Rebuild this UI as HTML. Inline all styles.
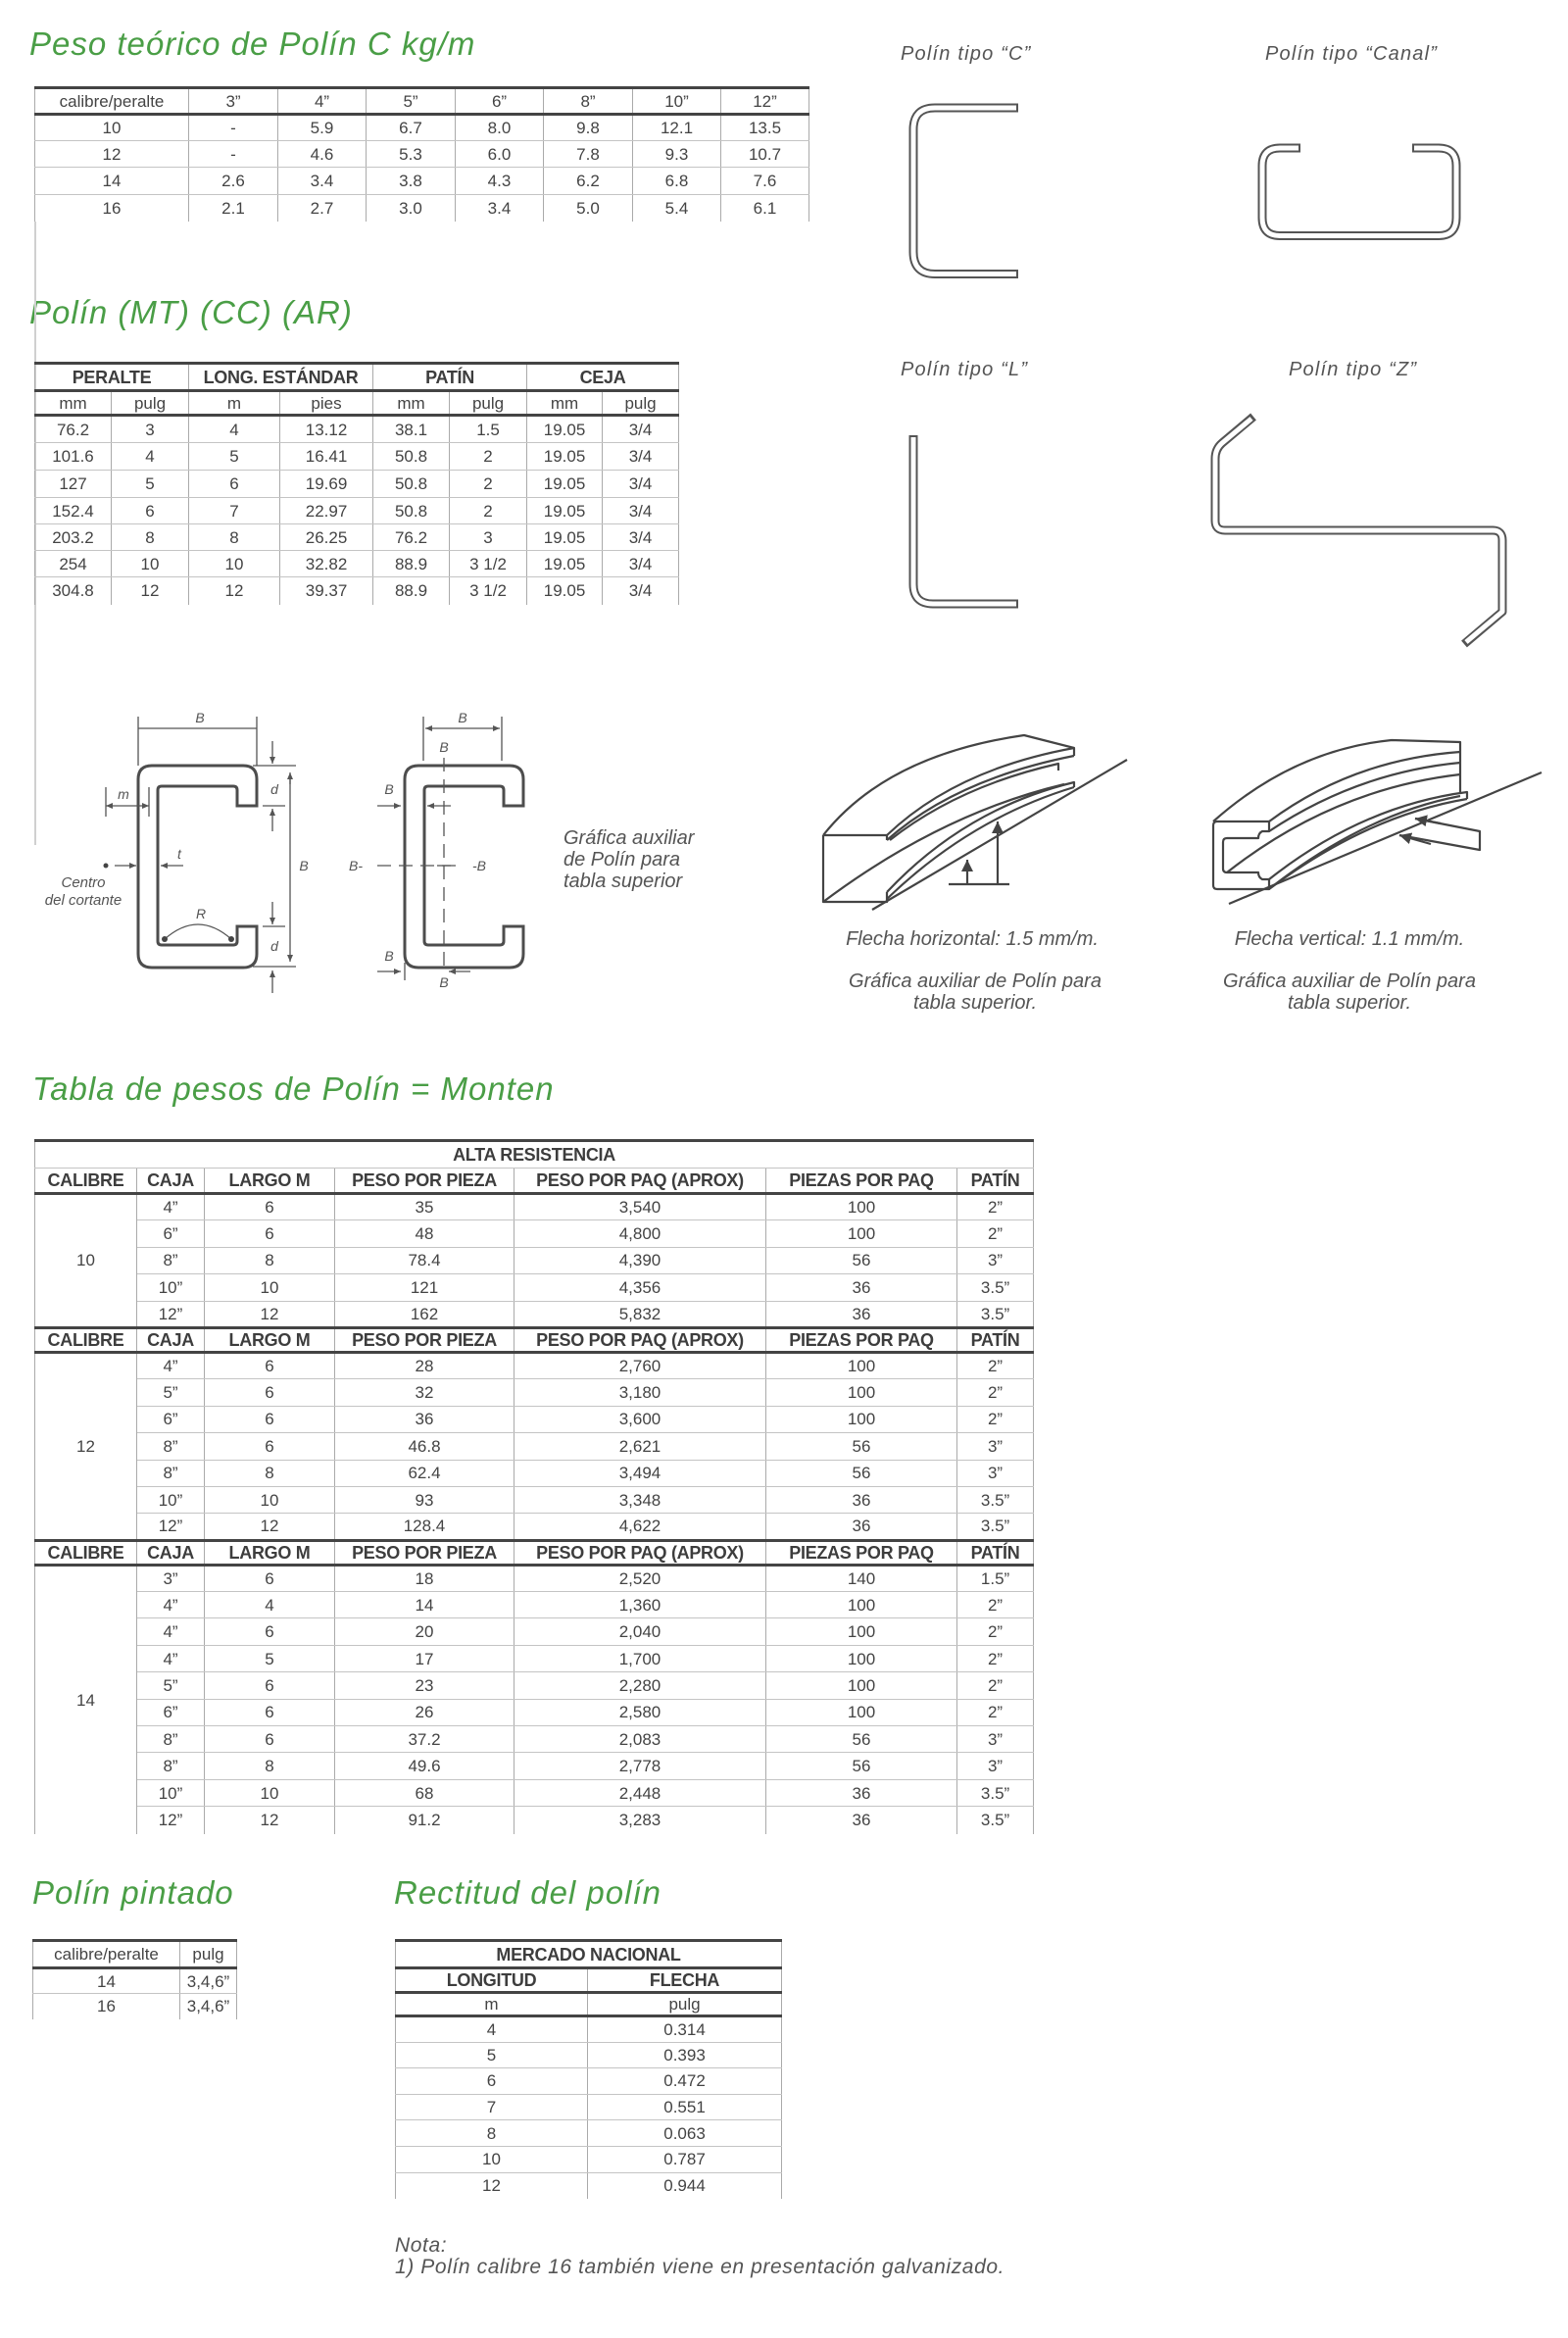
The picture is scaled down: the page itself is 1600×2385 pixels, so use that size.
<!DOCTYPE html>
<html><head><meta charset="utf-8">
<style>
html,body{margin:0;padding:0;background:#fff;}
body{width:1600px;height:2385px;position:relative;overflow:hidden;font-family:"Liberation Sans",sans-serif;}
.title{position:absolute;font-family:"Liberation Sans",sans-serif;font-style:italic;color:#4a9e46;font-size:33px;letter-spacing:1px;white-space:nowrap;line-height:1;}
.lbl{position:absolute;font-style:italic;color:#555;white-space:nowrap;line-height:1;}
table{position:absolute;border-collapse:collapse;table-layout:fixed;color:#444;font-size:17px;border-top:3px solid #444;}
td{padding:0;text-align:center;border-left:1px solid #aaa;border-right:1px solid #aaa;border-bottom:1px solid #c4c4c4;white-space:nowrap;overflow:hidden;line-height:1;}
tr.h td{border-bottom:3px solid #444;}
tr.hh td{border-top:3px solid #444;border-bottom:3px solid #444;}
tr.last td{border-bottom:none;}
.b td,td.b{font-weight:bold;font-size:18px;letter-spacing:-0.3px;color:#3d3d3d;}
</style></head>
<body>

<div class="title" style="left:30px;top:28px;">Peso teórico de Polín C kg/m</div>
<div class="title" style="left:30px;top:302px;">Polín (MT) (CC) (AR)</div>
<div class="title" style="left:33px;top:1094px;">Tabla de pesos de Polín = Monten</div>
<div class="title" style="left:33px;top:1914px;">Polín pintado</div>
<div class="title" style="left:402px;top:1914px;">Rectitud del polín</div>

<div style="position:absolute;left:35px;top:226px;width:2px;height:636px;background:#d0d0d0;"></div>

<!-- Table 1 -->
<table style="left:35px;top:88px;width:790px;">
<colgroup><col style="width:157px"><col style="width:91px"><col style="width:90px"><col style="width:91px"><col style="width:90px"><col style="width:91px"><col style="width:90px"><col style="width:90px"></colgroup>
<tr class="h" style="height:27px"><td>calibre/peralte</td><td>3”</td><td>4”</td><td>5”</td><td>6”</td><td>8”</td><td>10”</td><td>12”</td></tr>
<tr style="height:27px"><td>10</td><td>-</td><td>5.9</td><td>6.7</td><td>8.0</td><td>9.8</td><td>12.1</td><td>13.5</td></tr>
<tr style="height:27px"><td>12</td><td>-</td><td>4.6</td><td>5.3</td><td>6.0</td><td>7.8</td><td>9.3</td><td>10.7</td></tr>
<tr style="height:28px"><td>14</td><td>2.6</td><td>3.4</td><td>3.8</td><td>4.3</td><td>6.2</td><td>6.8</td><td>7.6</td></tr>
<tr class="last" style="height:27px"><td>16</td><td>2.1</td><td>2.7</td><td>3.0</td><td>3.4</td><td>5.0</td><td>5.4</td><td>6.1</td></tr>
</table>

<!-- Table 2 -->
<table style="left:35px;top:369px;width:657px;">
<colgroup><col style="width:78px"><col style="width:79px"><col style="width:93px"><col style="width:95px"><col style="width:78px"><col style="width:79px"><col style="width:77px"><col style="width:78px"></colgroup>
<tr class="h b" style="height:28px"><td colspan="2">PERALTE</td><td colspan="2">LONG. ESTÁNDAR</td><td colspan="2">PATÍN</td><td colspan="2">CEJA</td></tr>
<tr class="h" style="height:25px"><td>mm</td><td>pulg</td><td>m</td><td>pies</td><td>mm</td><td>pulg</td><td>mm</td><td>pulg</td></tr>
<tr style="height:28px"><td>76.2</td><td>3</td><td>4</td><td>13.12</td><td>38.1</td><td>1.5</td><td>19.05</td><td>3/4</td></tr>
<tr style="height:28px"><td>101.6</td><td>4</td><td>5</td><td>16.41</td><td>50.8</td><td>2</td><td>19.05</td><td>3/4</td></tr>
<tr style="height:28px"><td>127</td><td>5</td><td>6</td><td>19.69</td><td>50.8</td><td>2</td><td>19.05</td><td>3/4</td></tr>
<tr style="height:27px"><td>152.4</td><td>6</td><td>7</td><td>22.97</td><td>50.8</td><td>2</td><td>19.05</td><td>3/4</td></tr>
<tr style="height:27px"><td>203.2</td><td>8</td><td>8</td><td>26.25</td><td>76.2</td><td>3</td><td>19.05</td><td>3/4</td></tr>
<tr style="height:27px"><td>254</td><td>10</td><td>10</td><td>32.82</td><td>88.9</td><td>3 1/2</td><td>19.05</td><td>3/4</td></tr>
<tr class="last" style="height:28px"><td>304.8</td><td>12</td><td>12</td><td>39.37</td><td>88.9</td><td>3 1/2</td><td>19.05</td><td>3/4</td></tr>
</table>

<!-- Big table -->
<table style="left:35px;top:1162px;width:1019px;">
<colgroup><col style="width:104px"><col style="width:69px"><col style="width:133px"><col style="width:183px"><col style="width:257px"><col style="width:195px"><col style="width:78px"></colgroup>
<tr class="b" style="height:28px"><td colspan="7">ALTA RESISTENCIA</td></tr>
<tr class="h b" style="height:26px"><td>CALIBRE</td><td>CAJA</td><td>LARGO M</td><td>PESO POR PIEZA</td><td>PESO POR PAQ (APROX)</td><td>PIEZAS POR PAQ</td><td>PATÍN</td></tr>
<tr style="height:27.4px"><td rowspan="5" style="border-bottom:none">10</td><td>4”</td><td>6</td><td>35</td><td>3,540</td><td>100</td><td>2”</td></tr>
<tr style="height:27.4px"><td>6”</td><td>6</td><td>48</td><td>4,800</td><td>100</td><td>2”</td></tr>
<tr style="height:27.4px"><td>8”</td><td>8</td><td>78.4</td><td>4,390</td><td>56</td><td>3”</td></tr>
<tr style="height:27.4px"><td>10”</td><td>10</td><td>121</td><td>4,356</td><td>36</td><td>3.5”</td></tr>
<tr style="height:27.4px"><td>12”</td><td>12</td><td>162</td><td>5,832</td><td>36</td><td>3.5”</td></tr>
<tr class="hh b" style="height:25px"><td>CALIBRE</td><td>CAJA</td><td>LARGO M</td><td>PESO POR PIEZA</td><td>PESO POR PAQ (APROX)</td><td>PIEZAS POR PAQ</td><td>PATÍN</td></tr>
<tr style="height:27.4px"><td rowspan="7" style="border-bottom:none">12</td><td>4”</td><td>6</td><td>28</td><td>2,760</td><td>100</td><td>2”</td></tr>
<tr style="height:27.4px"><td>5”</td><td>6</td><td>32</td><td>3,180</td><td>100</td><td>2”</td></tr>
<tr style="height:27.4px"><td>6”</td><td>6</td><td>36</td><td>3,600</td><td>100</td><td>2”</td></tr>
<tr style="height:27.4px"><td>8”</td><td>6</td><td>46.8</td><td>2,621</td><td>56</td><td>3”</td></tr>
<tr style="height:27.4px"><td>8”</td><td>8</td><td>62.4</td><td>3,494</td><td>56</td><td>3”</td></tr>
<tr style="height:27.4px"><td>10”</td><td>10</td><td>93</td><td>3,348</td><td>36</td><td>3.5”</td></tr>
<tr style="height:27.4px"><td>12”</td><td>12</td><td>128.4</td><td>4,622</td><td>36</td><td>3.5”</td></tr>
<tr class="hh b" style="height:25px"><td>CALIBRE</td><td>CAJA</td><td>LARGO M</td><td>PESO POR PIEZA</td><td>PESO POR PAQ (APROX)</td><td>PIEZAS POR PAQ</td><td>PATÍN</td></tr>
<tr style="height:27.4px"><td rowspan="10" style="border-bottom:none">14</td><td>3”</td><td>6</td><td>18</td><td>2,520</td><td>140</td><td>1.5”</td></tr>
<tr style="height:27.4px"><td>4”</td><td>4</td><td>14</td><td>1,360</td><td>100</td><td>2”</td></tr>
<tr style="height:27.4px"><td>4”</td><td>6</td><td>20</td><td>2,040</td><td>100</td><td>2”</td></tr>
<tr style="height:27.4px"><td>4”</td><td>5</td><td>17</td><td>1,700</td><td>100</td><td>2”</td></tr>
<tr style="height:27.4px"><td>5”</td><td>6</td><td>23</td><td>2,280</td><td>100</td><td>2”</td></tr>
<tr style="height:27.4px"><td>6”</td><td>6</td><td>26</td><td>2,580</td><td>100</td><td>2”</td></tr>
<tr style="height:27.4px"><td>8”</td><td>6</td><td>37.2</td><td>2,083</td><td>56</td><td>3”</td></tr>
<tr style="height:27.4px"><td>8”</td><td>8</td><td>49.6</td><td>2,778</td><td>56</td><td>3”</td></tr>
<tr style="height:27.4px"><td>10”</td><td>10</td><td>68</td><td>2,448</td><td>36</td><td>3.5”</td></tr>
<tr class="last" style="height:28px"><td>12”</td><td>12</td><td>91.2</td><td>3,283</td><td>36</td><td>3.5”</td></tr>
</table>

<!-- Polín pintado table -->
<table style="left:33px;top:1978px;width:208px;">
<colgroup><col style="width:150px"><col style="width:58px"></colgroup>
<tr class="h" style="height:28px"><td>calibre/peralte</td><td>pulg</td></tr>
<tr style="height:26px"><td>14</td><td>3,4,6”</td></tr>
<tr class="last" style="height:26px"><td>16</td><td>3,4,6”</td></tr>
</table>

<!-- Rectitud table -->
<table style="left:403px;top:1978px;width:394px;">
<colgroup><col style="width:196px"><col style="width:198px"></colgroup>
<tr class="h b" style="height:28px"><td colspan="2">MERCADO NACIONAL</td></tr>
<tr class="h b" style="height:25px"><td>LONGITUD</td><td>FLECHA</td></tr>
<tr class="h" style="height:24px"><td>m</td><td>pulg</td></tr>
<tr style="height:26.6px"><td>4</td><td>0.314</td></tr>
<tr style="height:26.6px"><td>5</td><td>0.393</td></tr>
<tr style="height:26.6px"><td>6</td><td>0.472</td></tr>
<tr style="height:26.6px"><td>7</td><td>0.551</td></tr>
<tr style="height:26.6px"><td>8</td><td>0.063</td></tr>
<tr style="height:26.6px"><td>10</td><td>0.787</td></tr>
<tr class="last" style="height:27px"><td>12</td><td>0.944</td></tr>
</table>

<div class="lbl" style="left:403px;top:2280px;font-size:21px;letter-spacing:0.6px;">Nota:</div>
<div class="lbl" style="left:403px;top:2302px;font-size:21px;letter-spacing:0.6px;">1) Polín calibre 16 también viene en presentación galvanizado.</div>

<div class="lbl" style="left:919px;top:45px;font-size:20px;letter-spacing:1.2px;">Polín tipo “C”</div>
<div class="lbl" style="left:1291px;top:45px;font-size:20px;letter-spacing:1.2px;">Polín tipo “Canal”</div>
<div class="lbl" style="left:919px;top:367px;font-size:20px;letter-spacing:1.2px;">Polín tipo “L”</div>
<div class="lbl" style="left:1315px;top:367px;font-size:20px;letter-spacing:1.2px;">Polín tipo “Z”</div>

<div class="lbl" style="left:575px;top:844px;font-size:20px;line-height:22px;">Gráfica auxiliar<br>de Polín para<br>tabla superior</div>
<div class="lbl" style="left:20px;top:892px;width:130px;text-align:center;font-size:15px;line-height:18px;">Centro<br>del cortante</div>

<div class="lbl" style="left:800px;top:948px;width:384px;text-align:center;font-size:20px;">Flecha horizontal: 1.5 mm/m.</div>
<div class="lbl" style="left:800px;top:990px;width:390px;text-align:center;font-size:20px;line-height:22px;">Gráfica auxiliar de Polín para<br>tabla superior.</div>
<div class="lbl" style="left:1185px;top:948px;width:384px;text-align:center;font-size:20px;">Flecha vertical: 1.1 mm/m.</div>
<div class="lbl" style="left:1182px;top:990px;width:390px;text-align:center;font-size:20px;line-height:22px;">Gráfica auxiliar de Polín para<br>tabla superior.</div>

<svg width="1600" height="2385" style="position:absolute;left:0;top:0;" xmlns="http://www.w3.org/2000/svg">
<defs>
<marker id="ar" markerWidth="8" markerHeight="8" refX="7" refY="4" orient="auto" markerUnits="userSpaceOnUse"><path d="M0,1 L7,4 L0,7 Z" fill="#555"/></marker>
<marker id="ar2" markerWidth="14" markerHeight="14" refX="12" refY="6" orient="auto" markerUnits="userSpaceOnUse"><path d="M0,0 L12,6 L0,12 Z" fill="#444"/></marker>
</defs>

<g fill="none" stroke-linejoin="round">
<g stroke="#555" stroke-width="9">
<path d="M1039,110 H954 Q932,110 932,132 V257 Q932,279.5 954,279.5 H1039"/>
<path d="M1327,151 H1306 Q1288,151 1288,169 V222 Q1288,240.5 1306,240.5 H1468 Q1486,240.5 1486,222 V169 Q1486,151 1468,151 H1441"/>
<path d="M932,444 V596 Q932,616 952,616 H1039"/>
<path d="M1279,425 L1247,452 Q1240,458 1240,468 V531 Q1240,541 1250,541 H1523 Q1533,541 1533,551 V624 L1494,657"/>
</g>
<g stroke="#fff" stroke-width="5">
<path d="M1037,110 H954 Q932,110 932,132 V257 Q932,279.5 954,279.5 H1037"/>
<path d="M1325,151 H1306 Q1288,151 1288,169 V222 Q1288,240.5 1306,240.5 H1468 Q1486,240.5 1486,222 V169 Q1486,151 1468,151 H1443"/>
<path d="M932,446 V596 Q932,616 952,616 H1037"/>
<path d="M1277,427 L1247,452 Q1240,458 1240,468 V531 Q1240,541 1250,541 H1523 Q1533,541 1533,551 V624 L1496,655"/>
</g>
</g>

<g fill="none" stroke="#4d4d4d" stroke-width="3">
<path d="M262,822 V795 Q262,781 248,781 H155 Q141,781 141,795 V973 Q141,987 155,987 H248 Q262,987 262,973 V945 H242 V960 Q242,964 238,964 H165 Q161,964 161,960 V806 Q161,802 165,802 H238 Q242,802 242,806 V822 Z"/>
<path transform="translate(272,0)" d="M262,822 V795 Q262,781 248,781 H155 Q141,781 141,795 V973 Q141,987 155,987 H248 Q262,987 262,973 V945 H242 V960 Q242,964 238,964 H165 Q161,964 161,960 V806 Q161,802 165,802 H238 Q242,802 242,806 V822 Z"/>
</g>
<g fill="none" stroke="#555" stroke-width="1.3">
<line x1="141" y1="731" x2="141" y2="781"/><line x1="262" y1="731" x2="262" y2="781"/>
<line x1="141" y1="743" x2="262" y2="743"/>
<line x1="278" y1="756" x2="278" y2="779" marker-end="url(#ar)"/>
<line x1="258" y1="781" x2="302" y2="781"/>
<line x1="268" y1="822" x2="291" y2="822"/>
<line x1="278" y1="848" x2="278" y2="825" marker-end="url(#ar)"/>
<line x1="296" y1="800" x2="296" y2="788" marker-end="url(#ar)"/>
<line x1="296" y1="790" x2="296" y2="981" marker-end="url(#ar)"/>
<line x1="278" y1="920" x2="278" y2="943" marker-end="url(#ar)"/>
<line x1="268" y1="945" x2="291" y2="945"/>
<line x1="258" y1="986" x2="302" y2="986"/>
<line x1="278" y1="1013" x2="278" y2="990" marker-end="url(#ar)"/>
<line x1="108" y1="803" x2="108" y2="833"/><line x1="152" y1="803" x2="152" y2="833"/>
<line x1="125" y1="822" x2="108" y2="822" marker-end="url(#ar)"/>
<line x1="125" y1="822" x2="152" y2="822" marker-end="url(#ar)"/>
<line x1="117" y1="883" x2="139" y2="883" marker-end="url(#ar)"/>
<line x1="187" y1="883" x2="164" y2="883" marker-end="url(#ar)"/>
<path d="M168,958 Q202,928 236,958"/>
<line x1="432" y1="731" x2="432" y2="776"/><line x1="512" y1="731" x2="512" y2="776"/>
<line x1="470" y1="743" x2="434" y2="743" marker-end="url(#ar)"/>
<line x1="470" y1="743" x2="510" y2="743" marker-end="url(#ar)"/>
<line x1="453" y1="773" x2="453" y2="990" stroke-dasharray="14,8"/>
<line x1="385" y1="883" x2="470" y2="883" stroke-dasharray="14,8"/>
<line x1="446" y1="883" x2="460" y2="883"/>
<line x1="385" y1="822" x2="409" y2="822" marker-end="url(#ar)"/>
<line x1="460" y1="822" x2="436" y2="822" marker-end="url(#ar)"/>
<line x1="385" y1="991" x2="409" y2="991" marker-end="url(#ar)"/>
<line x1="413" y1="982" x2="413" y2="1000"/>
<line x1="480" y1="991" x2="458" y2="991" marker-end="url(#ar)"/>
</g>
<circle cx="108" cy="883" r="2.5" fill="#444"/>
<circle cx="168" cy="958" r="3" fill="#444"/><circle cx="236" cy="958" r="3" fill="#444"/>
<g font-family="Liberation Sans" font-style="italic" font-size="14" fill="#555" text-anchor="middle">
<text x="204" y="737">B</text><text x="280" y="810">d</text><text x="310" y="888">B</text>
<text x="280" y="970">d</text><text x="126" y="815">m</text><text x="183" y="876">t</text><text x="205" y="937">R</text>
<text x="472" y="737">B</text><text x="453" y="767">B</text><text x="397" y="810">B</text>
<text x="363" y="888">B-</text><text x="489" y="888">-B</text>
<text x="397" y="980">B</text><text x="453" y="1007">B</text>
</g>

<g fill="none" stroke="#444" stroke-width="2.2" stroke-linejoin="round">
<path d="M840,852 V920 H905 V910"/>
<path d="M840,852 H905 V857"/>
<path d="M840,852 Q905,770 1045,750 L1096,763 V771"/>
<path d="M905,852 Q975,785 1096,763"/>
<path d="M905,857 Q975,795 1096,771"/>
<path d="M908,857 Q978,802 1080,779 V786"/>
<path d="M905,910 Q985,825 1096,798 V803"/>
<path d="M905,917 Q990,835 1096,803"/>
<path d="M840,920 Q960,830 1086,800"/>
<line x1="890" y1="928" x2="1150" y2="775"/>
<line x1="968" y1="902" x2="1030" y2="902"/>
<line x1="1018" y1="902" x2="1018" y2="838" marker-end="url(#ar2)"/>
<line x1="987" y1="902" x2="987" y2="877" marker-end="url(#ar2)"/>
</g>
<g fill="none" stroke="#444" stroke-width="2.2" stroke-linejoin="round">
<path d="M1295,838 H1242 Q1238,838 1238,842 V903 Q1238,907 1242,907 H1295 V897 H1288 Q1284,895 1284,890 H1252 Q1248,890 1248,886 V859 Q1248,855 1252,855 H1284 Q1284,850 1288,848 H1295 Z"/>
<path d="M1238,838 Q1320,765 1420,755 L1490,757 V767"/>
<path d="M1295,838 Q1380,775 1490,767"/>
<path d="M1295,848 Q1385,788 1490,778"/>
<path d="M1252,890 Q1360,805 1490,790"/>
<line x1="1490" y1="767" x2="1490" y2="808"/>
<path d="M1295,897 Q1390,822 1497,808 V815"/>
<path d="M1295,907 Q1395,832 1497,815"/>
<path d="M1300,903 Q1395,830 1490,812"/>
<line x1="1254" y1="922" x2="1573" y2="788"/>
<path d="M1444,835 L1510,848 V867 L1428,852"/>
<line x1="1470" y1="840" x2="1444" y2="835" marker-end="url(#ar2)"/>
<line x1="1460" y1="861" x2="1428" y2="852" marker-end="url(#ar2)"/>
</g>
</svg>
</body></html>
